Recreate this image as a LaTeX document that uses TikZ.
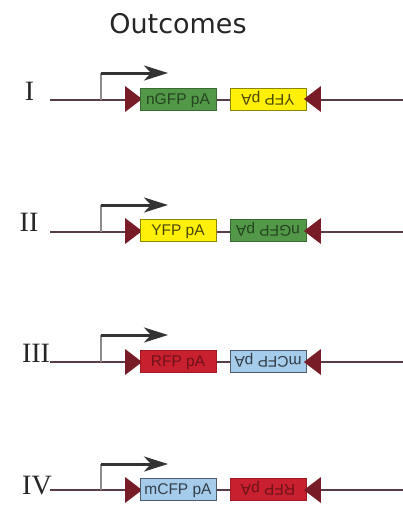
\documentclass[tikz,border=0pt]{standalone}
\usepackage{fontspec}
\setmainfont{Liberation Serif}
\newfontfamily\titlefont{DejaVu Sans}
\newfontfamily\genefont{Liberation Sans}
\usetikzlibrary{arrows.meta,shapes.geometric}
\definecolor{loxred}{RGB}{120,28,40}
\definecolor{dnaline}{RGB}{88,60,74}
\definecolor{gfpgreen}{RGB}{82,152,72}
\definecolor{yfpyellow}{RGB}{255,240,10}
\definecolor{rfpred}{RGB}{200,32,46}
\definecolor{cfpblue}{RGB}{166,204,236}

\begin{document}
\begin{tikzpicture}[x=1pt,y=-1pt,font=\genefont,
  gene/.style={draw,minimum width=76pt,minimum height=22pt,inner sep=0pt,
  line width=0.8pt,text height=11pt,text depth=1pt,
  font=\genefont\fontsize{15.5}{15.5}\selectfont},
  gfp/.style={gene,fill=gfpgreen,draw=gfpgreen!70!black,text=gfpgreen!45!black},
  yfp/.style={gene,fill=yfpyellow,draw=yfpyellow!55!black,text=yfpyellow!30!black},
  rfp/.style={gene,fill=rfpred,draw=rfpred!80!black,text=rfpred!55!black},
  cfp/.style={gene,fill=cfpblue,draw=cfpblue!45!black,text=cfpblue!30!black},
  lox/.style={isosceles triangle,isosceles triangle stretches,fill=loxred,
  inner sep=0pt,minimum height=17pt,minimum width=26pt},
  back/.style={draw=dnaline,line width=1.4pt},
  stem/.style={draw=black!45,line width=1.8pt},
  tss/.style={draw=black!80,line width=3pt,
  -{Stealth[length=24pt,width=15pt,inset=7pt]}},
  numeral/.style={font=\fontsize{28}{28}\selectfont,text=black!85,anchor=base}]
  \useasboundingbox (0,0) rectangle (403,506);
  \node[font=\titlefont\fontsize{27}{27}\selectfont,text=black!85] (title) at (178,24) {Outcomes};

  % I
  \node[numeral] (num1) at (29.5,100) {I};
  \coordinate (start1) at (50,100); \coordinate (end1) at (403,100);
  \draw[back] (start1) -- (end1);
  \coordinate (tss1) at (101,100); \coordinate (bend1) at (101,73); \coordinate (tip1) at (168,73);
  \draw[stem] (tss1) -- (bend1);
  \draw[tss] (bend1) -- (tip1);
  \node[lox] (loxa1) at (131.5,99) {};
  \node[gfp] (first1) at (178,99) {nGFP pA};
  \node[yfp,rotate=180] (second1) at (268,99) {YFP pA};
  \node[lox,shape border rotate=180] (loxb1) at (314.5,99) {};

  % II
  \node[numeral] (num2) at (29,231) {II};
  \coordinate (start2) at (50,232); \coordinate (end2) at (403,232);
  \draw[back] (start2) -- (end2);
  \coordinate (tss2) at (101,232); \coordinate (bend2) at (101,205); \coordinate (tip2) at (168,205);
  \draw[stem] (tss2) -- (bend2);
  \draw[tss] (bend2) -- (tip2);
  \node[lox] (loxa2) at (131.5,231) {};
  \node[yfp] (first2) at (178,230) {YFP pA};
  \node[gfp,rotate=180] (second2) at (268,230) {nGFP pA};
  \node[lox,shape border rotate=180] (loxb2) at (314.5,231) {};

  % III
  \node[numeral] (num3) at (36,362) {III};
  \coordinate (start3) at (50,362); \coordinate (end3) at (403,362);
  \draw[back] (start3) -- (end3);
  \coordinate (tss3) at (101,362); \coordinate (bend3) at (101,335); \coordinate (tip3) at (168,335);
  \draw[stem] (tss3) -- (bend3);
  \draw[tss] (bend3) -- (tip3);
  \node[lox] (loxa3) at (131.5,362) {};
  \node[rfp] (first3) at (178,361) {RFP pA};
  \node[cfp,rotate=180] (second3) at (268,361) {mCFP pA};
  \node[lox,shape border rotate=180] (loxb3) at (314.5,362) {};

  % IV
  \node[numeral] (num4) at (37,494) {IV};
  \coordinate (start4) at (50,490); \coordinate (end4) at (403,490);
  \draw[back] (start4) -- (end4);
  \coordinate (tss4) at (101,490); \coordinate (bend4) at (101,464); \coordinate (tip4) at (168,464);
  \draw[stem] (tss4) -- (bend4);
  \draw[tss] (bend4) -- (tip4);
  \node[lox] (loxa4) at (131.5,490) {};
  \node[cfp] (first4) at (178,489) {mCFP pA};
  \node[rfp,rotate=180] (second4) at (268,489) {RFP pA};
  \node[lox,shape border rotate=180] (loxb4) at (314.5,490) {};
\end{tikzpicture}
\end{document}
